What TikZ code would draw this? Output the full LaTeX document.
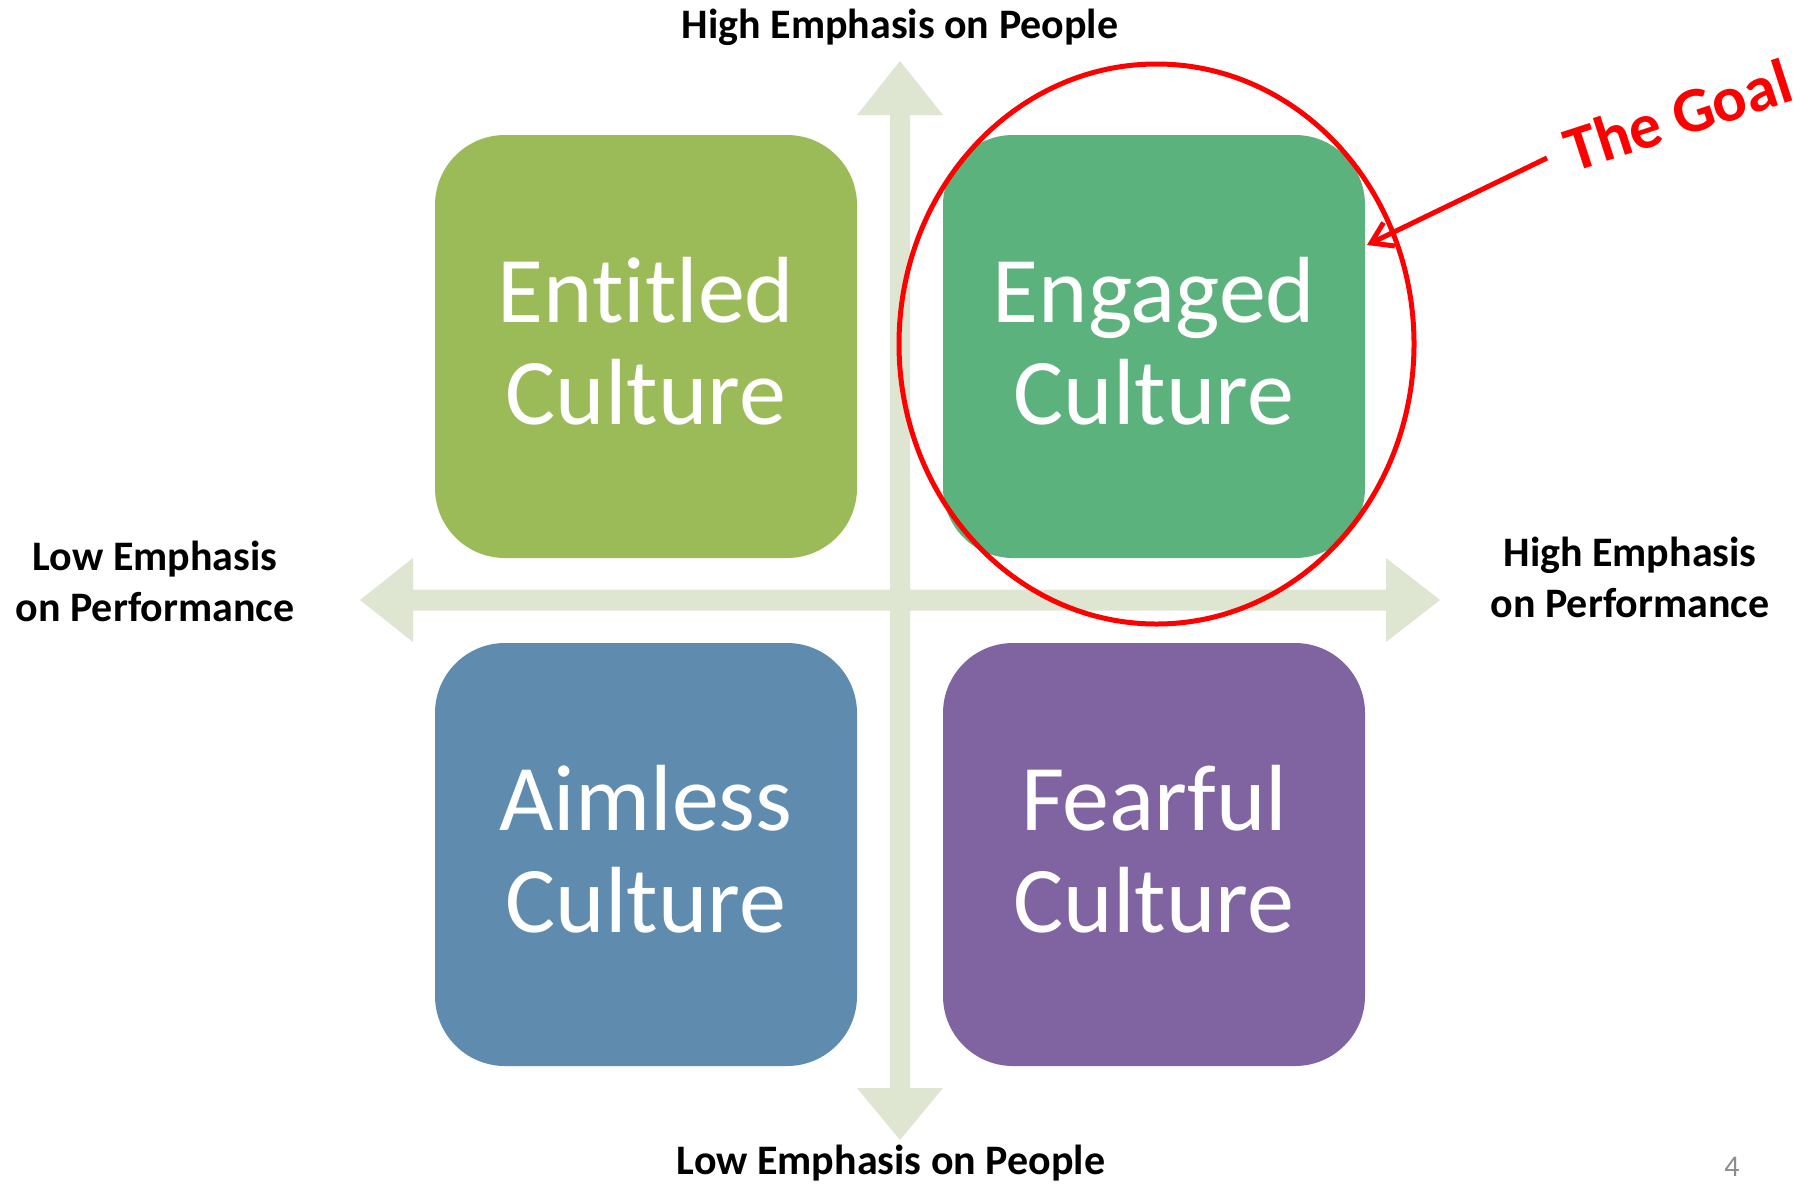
\documentclass[tikz,border=0pt]{standalone}
\usepackage{fontspec}
\setmainfont{Carlito}[Ligatures={NoCommon}]
\usetikzlibrary{arrows.meta}
\definecolor{entitled}{HTML}{9BBB59}
\definecolor{engaged}{HTML}{5BB27C}
\definecolor{aimless}{HTML}{5F8CAE}
\definecolor{fearful}{HTML}{8064A2}
\definecolor{axisgreen}{HTML}{DEE6D2}
\definecolor{pagegray}{HTML}{8C8C8C}
\begin{document}
\begin{tikzpicture}[x=1pt,y=-1pt,
  quad/.style={rounded corners=70pt, minimum width=422pt, minimum height=423pt,
    inner sep=0pt, text=white, align=center, text depth=12pt,
    font=\fontsize{94}{102}\selectfont},
  axislabel/.style={font=\fontsize{42}{51}\selectfont\bfseries, align=center, inner sep=0pt},
  goalmark/.style={red, line width=5pt},
  goaltext/.style={text=red, font=\fontsize{64}{70}\selectfont\bfseries, inner sep=0pt}
]
% canvas
\fill[white] (0,0) rectangle (1814,1184);
\useasboundingbox (0,0) rectangle (1814,1184);

% vertical axis: people
\fill[axisgreen] (900,61) -- (943,115) -- (910,115) -- (910,1088) -- (943,1088)
  -- (900,1140) -- (857,1088) -- (890,1088) -- (890,115) -- (857,115) -- cycle;
% horizontal axis: performance
\fill[axisgreen] (360,600) -- (413,558) -- (413,589.5) -- (1386,589.5) -- (1386,558)
  -- (1440,600) -- (1386,642) -- (1386,610.5) -- (413,610.5) -- (413,642) -- cycle;

% the four cultures
\node[quad, fill=entitled] (entitled) at (646,346.5) {Entitled\\Culture};
\node[quad, fill=engaged]  (engaged)  at (1154,346.5) {Engaged\\Culture};
\node[quad, fill=aimless]  (aimless)  at (646,854.5) {Aimless\\Culture};
\node[quad, fill=fearful]  (fearful)  at (1154,854.5) {Fearful\\Culture};

% highlight of the target quadrant
\draw[goalmark] (1156.5,344) ellipse [x radius=257.5pt, y radius=280pt];
\node[goaltext, rotate=18] (goal) at (1678,115) {The Goal};
\coordinate (goaltail) at (1547,158);
\coordinate (goalhead) at (1367,245);
\draw[goalmark, -{Straight Barb[length=20pt,width=26pt]}] (goaltail) -- (goalhead);

% axis labels
\node[axislabel, anchor=base] (hipeople) at (900,38) {High Emphasis on People};
\node[axislabel, anchor=base] (lopeople) at (891,1174) {Low Emphasis on People};
\node[axislabel] (loperf) at (155,581.5) {Low Emphasis\\on Performance};
\node[axislabel] (hiperf) at (1630,577) {High Emphasis\\on Performance};

% page number
\node[anchor=base, text=pagegray, font=\fontsize{30}{36}\selectfont, inner sep=0pt] (pagenum) at (1732,1176) {4};
\end{tikzpicture}
\end{document}
